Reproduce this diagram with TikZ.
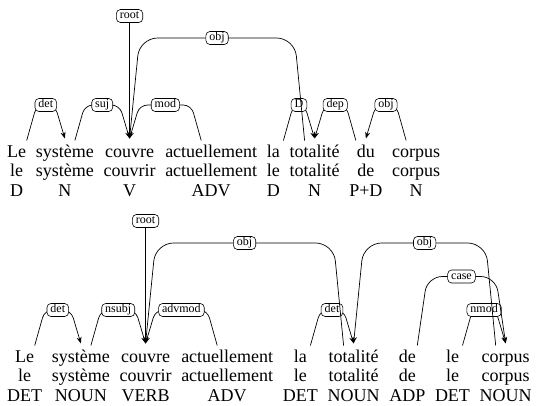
\documentclass[tikz,border=0pt]{standalone}
\usepackage{fontspec}
\setmainfont{Liberation Serif}
\usetikzlibrary{arrows.meta,matrix,calc}
\tikzset{
  words/.style={matrix of nodes, anchor=north west, inner sep=0pt,
    column sep=9.7pt, row sep=0pt,
    nodes={anchor=base, inner sep=0pt, text height=13.5pt, text depth=6pt,
      font=\fontsize{18}{20}\selectfont}},
  deparc/.style={draw, line width=0.7pt, rounded corners=8pt,
    -{Stealth[length=6.5pt,width=5pt]}},
  deplabel/.style={draw, fill=white, line width=0.6pt, rounded corners=4pt,
    inner xsep=3.5pt, inner ysep=1pt, text height=8.5pt, text depth=2.5pt,
    font=\fontsize{12}{14}\selectfont}
}
\newcommand{\deparc}[6][]{%
  \draw[deparc,#1] ($(#2.north)+({(#3)*10},-3)$)
    -- ($(#2.north)+({(#3)*20},{13.5-(#5)})$)
    -- node[deplabel]{#6} ($(#4.north)+({(#3)*(-10)},{13.5-(#5)})$)
    -- ($(#4.north)+(0,-5)$);}

\begin{document}
\begin{tikzpicture}[x=1pt,y=-1pt]
\useasboundingbox (0,0) rectangle (536,406);

\matrix (top) [words] at (7,143.5) {
Le & système & couvre & actuellement & la & totalité & du & corpus \\
le & système & couvrir & actuellement & le & totalité & de & corpus \\
D & N & V & ADV & D & N & P+D & N \\
};

\deparc{top-1-1}{1}{top-1-2}{52}{det}
\deparc{top-1-2}{1}{top-1-3}{52}{suj}
\deparc{top-1-4}{-1}{top-1-3}{52}{mod}
\deparc{top-1-5}{1}{top-1-6}{52}{D}
\deparc{top-1-7}{-1}{top-1-6}{52}{dep}
\deparc{top-1-8}{-1}{top-1-7}{52}{obj}
\deparc[rounded corners=18pt]{top-1-6}{-1}{top-1-3}{119}{obj}
\node[deplabel] (rootA) at ($(top-1-3.north)+(0,-127.5)$) {root};
\draw[deparc] (rootA) -- ($(top-1-3.north)+(0,-5)$);

\matrix (bot) [words] at (7,348.5) {
Le & système & couvre & actuellement & la & totalité & de & le & corpus \\
le & système & couvrir & actuellement & le & totalité & de & le & corpus \\
DET & NOUN & VERB & ADV & DET & NOUN & ADP & DET & NOUN \\
};

\deparc{bot-1-1}{1}{bot-1-2}{52}{det}
\deparc{bot-1-2}{1}{bot-1-3}{52}{nsubj}
\deparc{bot-1-4}{-1}{bot-1-3}{52}{advmod}
\deparc{bot-1-5}{1}{bot-1-6}{52}{det}
\deparc{bot-1-8}{1}{bot-1-9}{52}{nmod}
\deparc[rounded corners=15pt]{bot-1-7}{1}{bot-1-9}{85.5}{case}
\deparc[rounded corners=18pt]{bot-1-9}{-1}{bot-1-6}{119}{obj}
\deparc[rounded corners=18pt]{bot-1-6}{-1}{bot-1-3}{119}{obj}
\node[deplabel] (rootB) at ($(bot-1-3.north)+(0,-127.5)$) {root};
\draw[deparc] (rootB) -- ($(bot-1-3.north)+(0,-5)$);
\end{tikzpicture}
\end{document}
